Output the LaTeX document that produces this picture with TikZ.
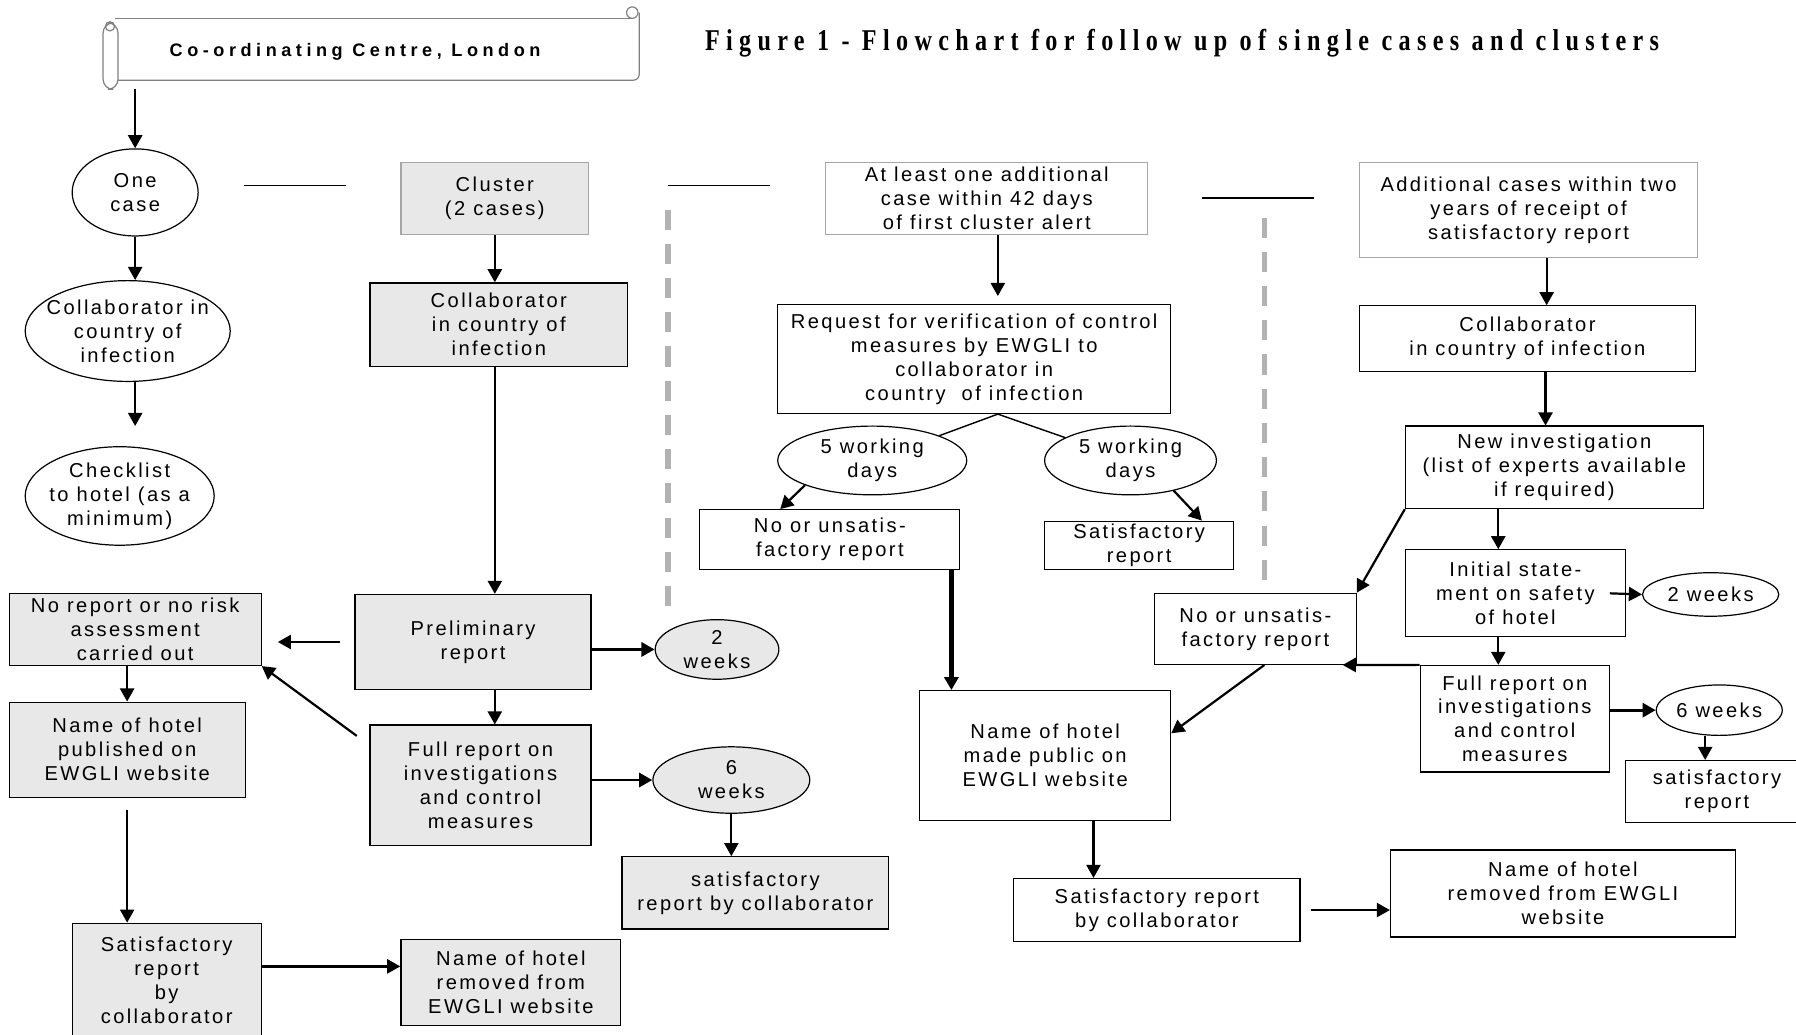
\documentclass[tikz,border=0pt]{standalone}
\usepackage{fontspec}
\setmainfont{Liberation Sans}[LetterSpace=12]
\newfontfamily\titlefont{Liberation Serif}[FakeStretch=0.8,LetterSpace=21]
\newfontfamily\bannerfont{Liberation Sans}[LetterSpace=25]
\usetikzlibrary{shapes.geometric,arrows.meta,calc}

\definecolor{boxgrey}{HTML}{E8E8E8}
\definecolor{edgegrey}{HTML}{A6A6A6}
\definecolor{scrollgrey}{HTML}{808080}

\tikzset{
  wh/.style 2 args={minimum width=#1*0.02cm, minimum height=#2*0.02cm},
  box/.style={draw, line width=0.6pt, rectangle, align=center, inner sep=1pt},
  greybox/.style={box, fill=boxgrey},
  oval/.style={draw, line width=0.6pt, ellipse, inner sep=0pt},
  txt/.style={align=center, inner sep=0pt},
  flow/.style={-{Triangle[length=6.5pt,width=7pt]}, line width=1.1pt},
  weekflow/.style={flow, line width=1.4pt},
  heavy/.style={flow, line width=2.2pt},
  link/.style={line width=0.7pt},
  rule/.style={line width=0.8pt},
  divider/.style={draw=black!30, line width=2.8pt, dash pattern=on 10pt off 7pt},
  scroll/.style={draw=scrollgrey, line width=0.6pt},
}

\begin{document}
\begin{tikzpicture}[x=0.02cm, y=-0.02cm, font=\fontsize{10}{11.9}\selectfont]
    \path[use as bounding box, clip] (0,0) rectangle (1568,903);

    % Scroll header
    \draw[scroll] (100,16) -- (553,16);
    \draw[scroll] (558,11) -- (558,65) to[out=-90,in=0] (553,70) -- (103,70);
    \draw[scroll, fill=white, rounded corners=5] (90,20) rectangle (103,78);
    \draw[scroll] (96,23) circle[radius=4];
    \draw[scroll] (552,11) circle[radius=5];
    \node[font=\bannerfont\bfseries\fontsize{9}{10}\selectfont] (centre) at (310,45) {Co-ordinating Centre, London};
    \coordinate (scrollfoot) at (118,78);

    % Title
    \node[font=\titlefont\bfseries\fontsize{15}{17}\selectfont] (title) at (1032,38) {Figure 1 - Flowchart for follow up of single cases and clusters};

    % Column separators
    \draw[rule] (213,162) -- (302,162);
    \draw[rule] (583,162) -- (672,162);
    \draw[rule] (1049,173) -- (1147,173);
    \draw[divider] (583,183) -- (583,530);
    \draw[divider] (1104,190) -- (1104,510);

    % One case
    \node[oval, wh={110}{76}] (onecase) at (118,168) {};
    \node[txt] at (onecase) {One\\case};
    \node[oval, wh={179}{88}] (collabov) at (111.5,289) {};
    \node[txt] at (collabov) {Collaborator in\\country of\\infection};
    \node[oval, wh={165}{86}] (checklist) at (104.5,433) {};
    \node[txt] at (checklist) {Checklist\\to hotel (as a\\minimum)};
    \draw[flow] (scrollfoot) -- (onecase.north);
    \draw[flow] (onecase.south) -- (onecase.south |- collabov.north);
    \draw[flow, shorten >=10pt] (onecase.south |- collabov.south) -- (onecase.south |- checklist.north);

    % Cluster
    \node[greybox, draw=edgegrey, wh={164}{63}] (cluster) at (432,173.5) {Cluster\\(2 cases)};
    \node[greybox, wh={225}{73}] (collabbox) at (435.5,283.5) {Collaborator\\in country of\\infection};
    \node[greybox, wh={206}{83}] (prelim) at (413,560.5) {Preliminary\\report};
    \node[oval, fill=boxgrey, wh={108}{52}] (twowk) at (626,567) {};
    \node[txt] at (twowk) {2\\weeks};
    \node[greybox, wh={220}{63}] (noreport) at (118,549.5) {No report or no risk\\assessment\\carried out};
    \node[greybox, wh={193}{105}] (fullrep) at (419.5,685.5) {Full report on\\investigations\\and control\\measures};
    \node[oval, fill=boxgrey, wh={137}{58}] (sixwk) at (638.5,681) {};
    \node[txt] at (sixwk) {6\\weeks};
    \node[greybox, wh={233}{63}] (satcollab) at (659.5,779.5) {satisfactory\\report by collaborator};
    \node[greybox, wh={206}{83}] (published) at (111,654.5) {Name of hotel\\published on\\EWGLI website};
    \node[greybox, wh={165}{100}] (satlast) at (145.5,856) {Satisfactory\\report\\by\\collaborator};
    \node[greybox, wh={192}{75}] (removed) at (446,857.5) {Name of hotel\\removed from\\EWGLI website};
    \coordinate (handover) at ([yshift=7pt]satlast.east);

    \draw[flow] (cluster.south) -- (cluster.south |- collabbox.north);
    \draw[flow] (cluster.south |- collabbox.south) -- (cluster.south |- prelim.north);
    \draw[flow] (cluster.south |- prelim.south) -- (cluster.south |- fullrep.north);
    \draw[weekflow] (prelim.east |- twowk.west) -- (twowk.west);
    \draw[flow, shorten <=7pt, shorten >=8pt] (prelim.west) -- (prelim.west -| noreport.east);
    \draw[flow] ($(fullrep.north west)+(-11,10)$) -- (noreport.south east);
    \draw[weekflow] (fullrep.east |- sixwk.west) -- (sixwk.west);
    \draw[flow] (sixwk.south) -- (sixwk.south |- satcollab.north);
    \draw[flow] (published.north |- noreport.south) -- (published.north);
    \draw[flow, shorten <=6pt] (published.south) -- (published.south |- satlast.north);
    \draw[flow] (handover) -- (handover -| removed.west);

    % Further case within 42 days
    \node[box, draw=edgegrey, wh={281}{63}] (atleast) at (861.5,173.5) {At least one additional\\case within 42 days\\of first cluster alert};
    \node[box, wh={343}{95}] (request) at (850.5,313.5) {Request for verification of control\\measures by EWGLI to\\collaborator in\\country\ \ of infection};
    \node[oval, wh={165}{60}] (wdleft) at (761.5,402) {};
    \node[txt] at (wdleft) {5 working\\days};
    \node[oval, wh={150}{60}] (wdright) at (987,402) {};
    \node[txt] at (wdright) {5 working\\days};
    \node[box, wh={227}{52}] (unsatmid) at (724.5,471) {No or unsatis-\\factory report};
    \node[box, wh={165}{42}] (satmid) at (994.5,476) {Satisfactory\\report};
    \node[box, wh={219}{113}] (madepublic) at (912.5,659.5) {Name of hotel\\made public on\\EWGLI website};
    \node[box, wh={250}{55}] (satreport) at (1010,794.5) {Satisfactory report\\by collaborator};
    \node[box, wh={301}{76}] (removedright) at (1364.5,780) {Name of hotel\\removed from EWGLI\\website};
    \coordinate (alertdrop) at ([xshift=5.5pt]atleast.south);
    \coordinate (fork) at (alertdrop |- request.south);

    \draw[flow, shorten >=4pt] (alertdrop) -- (alertdrop |- request.north);
    \draw[link] (fork) -- (wdleft);
    \draw[link] (fork) -- (wdright);
    \draw[flow] (wdleft.south west) -- ($(unsatmid.north west)!0.62!(unsatmid.north)$);
    \draw[flow] (wdright.-35) -- ($(satmid.north)!0.66!(satmid.north east)$);
    \draw[heavy] ([xshift=-4.5pt]unsatmid.south east) -- ([xshift=-4.5pt]unsatmid.south east |- madepublic.north);
    \draw[flow] ([xshift=24pt]madepublic.south) -- ([xshift=24pt]madepublic.south |- satreport.north);
    \draw[flow, shorten <=5pt] (satreport.east) -- (satreport.east -| removedright.west);

    % Cases within two years
    \node[box, draw=edgegrey, wh={295}{83}] (additional) at (1334.5,183.5) {Additional cases within two\\years of receipt of\\satisfactory report};
    \node[box, wh={293}{57}] (collabright) at (1333.5,295.5) {Collaborator\\in country of infection};
    \node[box, wh={260}{72}] (newinv) at (1357,408) {New investigation\\(list of experts available\\if required)};
    \node[box, wh={176}{62}] (unsatright) at (1096,549) {No or unsatis-\\factory report};
    \node[box, wh={192}{76}] (initial) at (1323,518) {Initial state-\\ment on safety\\of hotel};
    \node[oval, wh={119}{38}] (twowkright) at (1493.5,519) {};
    \node[txt] at (twowkright) {2 weeks};
    \node[box, wh={165}{93}] (fullright) at (1322.5,627.5) {Full report on\\investigations\\and control\\measures};
    \node[oval, wh={110}{44}] (sixwkright) at (1501,620) {};
    \node[txt] at (sixwkright) {6 weeks};
    \node[box, wh={160}{54}] (satright) at (1499,691) {satisfactory\\report};
    \coordinate (invdrop) at ([xshift=-8.5pt]initial.north);

    \draw[flow] ([xshift=9pt]additional.south) -- ([xshift=9pt]additional.south |- collabright.north);
    \draw[flow] ([xshift=9pt]collabright.south) -- ([xshift=9pt]collabright.south |- newinv.north);
    \draw[flow] (newinv.south west) -- (unsatright.north east);
    \draw[flow] (invdrop |- newinv.south) -- (invdrop);
    \draw[flow] ([xshift=-8pt]initial.east) -- (twowkright.west);
    \draw[flow] (invdrop |- initial.south) -- (invdrop |- fullright.north);
    \draw[flow] (fullright.north west) -- ([xshift=-7pt]unsatright.south east);
    \draw[weekflow] (fullright.east |- sixwkright.west) -- (sixwkright.west);
    \draw[flow] ([xshift=-7pt]sixwkright.south) -- ([xshift=-7pt]sixwkright.south |- satright.north);
    \draw[flow] ([xshift=4.5pt]unsatright.south) -- ([yshift=11pt]madepublic.east);
\end{tikzpicture}
\end{document}
